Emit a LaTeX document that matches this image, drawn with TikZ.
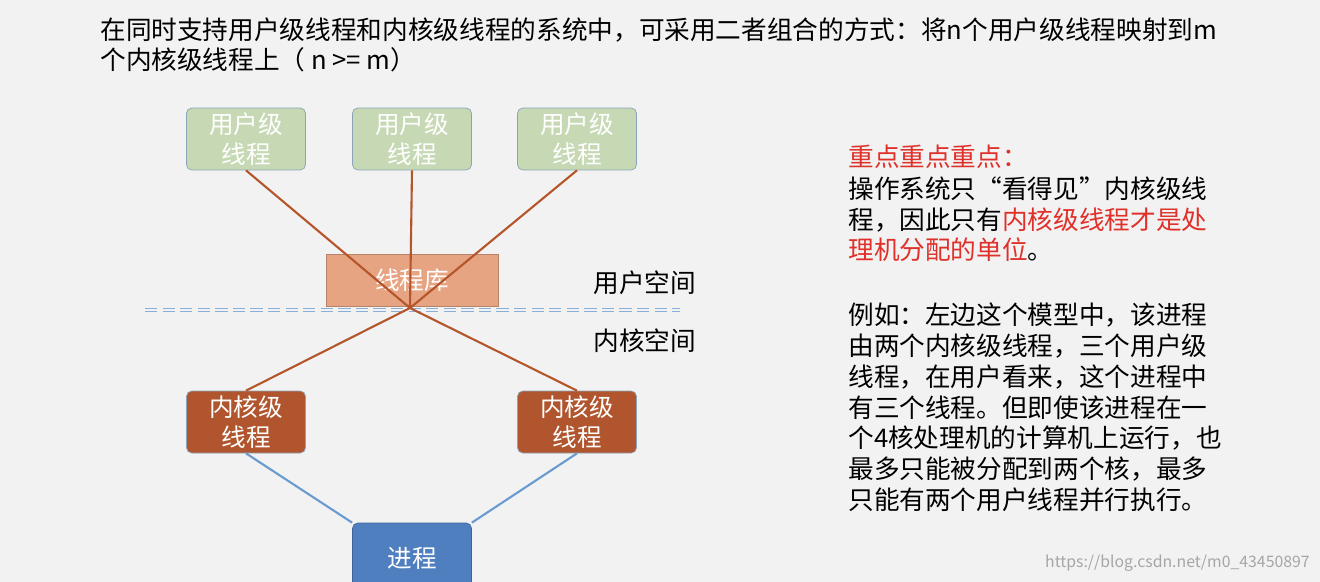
\documentclass[tikz,border=0pt]{standalone}
\usepackage{fontspec}
\setmainfont{Noto Sans CJK SC}
\usepackage{xcolor}
\usepackage{tikz}
\usetikzlibrary{positioning}
\definecolor{bg}{HTML}{F2F2F2}
\definecolor{usergreen}{HTML}{C6D9B4}
\definecolor{userborder}{HTML}{8BA3B8}
\definecolor{libfill}{HTML}{E6A482}
\definecolor{kernfill}{HTML}{B0552D}
\definecolor{procfill}{HTML}{4F7FBF}
\definecolor{linkbrown}{HTML}{B5552A}
\definecolor{linkblue}{HTML}{6A9BD0}
\definecolor{keyred}{HTML}{E0302A}
\tikzset{user node/.style={rectangle,rounded corners=3pt,fill=usergreen,draw=userborder,minimum width=2.38cm,minimum height=1.24cm,text=white,align=center,inner sep=0pt,font=\fontsize{14}{17}\selectfont},
kern node/.style={user node,fill=kernfill},
proc node/.style={user node,fill=procfill,draw=procfill!80!black},
lib node/.style={rectangle,fill=libfill,draw=libfill!80!black,minimum width=3.44cm,minimum height=1.04cm,text=white,font=\fontsize{14}{17}\selectfont},
plain text/.style={anchor=west,inner sep=0pt,font=\fontsize{14.6}{17}\selectfont},
}
\begin{document}
\begin{tikzpicture}[x=0.02cm,y=-0.02cm]
    \fill[bg] (0,0) rectangle (1320,582);
    \useasboundingbox (0,0) rectangle (1320,582);

    \node[plain text] (title1) at (100,30) {在同时支持用户级线程和内核级线程的系统中，可采用二者组合的方式：将n个用户级线程映射到m};
    \node[plain text] (title2) at (100,60) {个内核级线程上（ n >= m）};

    \node[user node] (u1) at (246,139) {用户级\\线程};
    \node[user node] (u2) at (412,139) {用户级\\线程};
    \node[user node] (u3) at (577,139) {用户级\\线程};
    \node[lib node] (lib) at (412,280) {线程库};
    \node[kern node] (k1) at (246,422) {内核级\\线程};
    \node[kern node] (k2) at (577,422) {内核级\\线程};
    \node[proc node,minimum height=1.4cm] (p) at (412,558) {进程};
    \coordinate (x) at (410,308);

    \draw[linkblue!80,double=bg,double distance=1.2pt,dashed,dash pattern=on 7pt off 3pt] (145,310) -- (680,310);
    \node[plain text] (us) at (593,283) {用户空间};
    \node[plain text] (ks) at (593,341) {内核空间};

    \path[draw,linkbrown,line width=1.2pt]
    (u1.south) -- (x) (u2.south) -- (x) (u3.south) -- (x)
    (x) -- (k1.north) (x) -- (k2.north)
    ;
    \path[draw,linkblue,line width=1.2pt]
    (k1.south) -- (p.north west) (k2.south) -- (p.north east)
    ;

    \node[plain text,text=keyred] (r1) at (848,157) {重点重点重点：};
    \node[plain text] (r2) at (848,189) {操作系统只“看得见”内核级线};
    \node[plain text] (r3) at (848,220) {程，因此只有\textcolor{keyred}{内核级线程才是处}};
    \node[plain text] (r4) at (848,250) {\textcolor{keyred}{理机分配的单位}。};
    \node[plain text] (e1) at (848,315) {例如：左边这个模型中，该进程};
    \node[plain text] (e2) at (848,346) {由两个内核级线程，三个用户级};
    \node[plain text] (e3) at (848,377) {线程，在用户看来，这个进程中};
    \node[plain text] (e4) at (848,408) {有三个线程。但即使该进程在一};
    \node[plain text] (e5) at (848,438) {个4核处理机的计算机上运行，也};
    \node[plain text] (e6) at (848,469) {最多只能被分配到两个核，最多};
    \node[plain text] (e7) at (848,500) {只能有两个用户线程并行执行。};

    \node[anchor=east,inner sep=0pt,text=gray!70,font=\fontsize{9}{10}\selectfont] (wm) at (1310,563) {https://blog.csdn.net/m0\_43450897};
\end{tikzpicture}
\end{document}
